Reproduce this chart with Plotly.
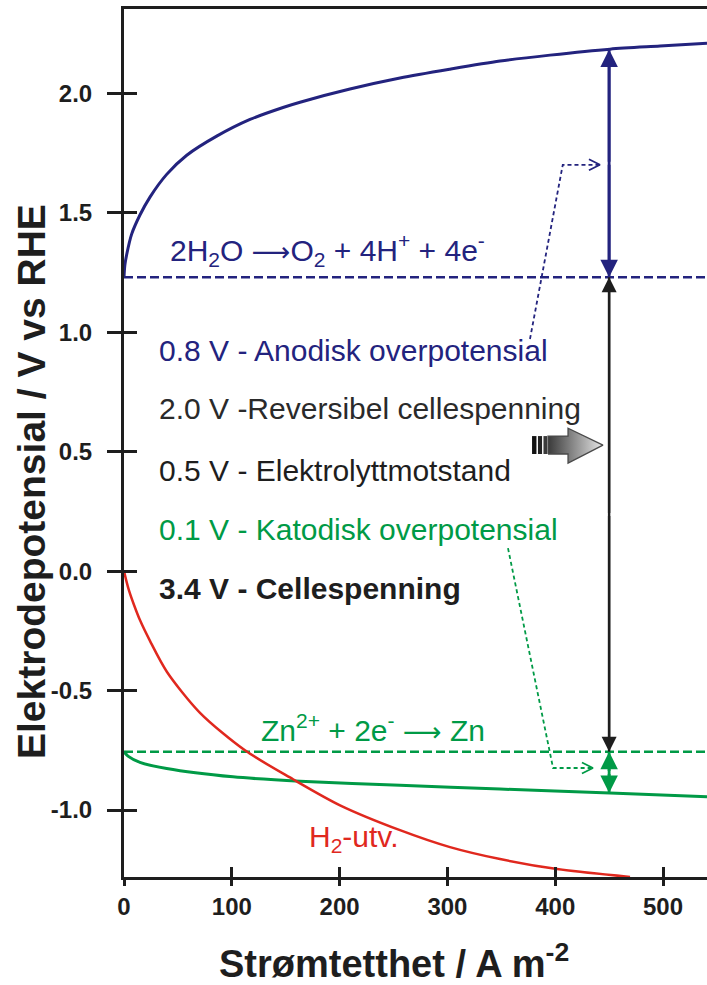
import plotly.graph_objects as go

# ---------------- data ----------------
x_tick_vals = [0, 100, 200, 300, 400, 500]
x_tick_text = ["0", "100", "200", "300", "400", "500"]
y_tick_vals = [-1.0, -0.5, 0.0, 0.5, 1.0, 1.5, 2.0]
y_tick_text = ["-1.0", "-0.5", "0.0", "0.5", "1.0", "1.5", "2.0"]

# anodic (O2 evolution) polarisation curve
anode_x = [0, 0.8, 2.5, 7.1, 14.8, 24.1, 39.6, 58.2, 86, 116.9, 147.5, 163.3, 209.6, 256, 302.4, 348.8, 395.2, 450.8, 497.2, 540.8]
anode_y = [1.23, 1.28, 1.325, 1.41, 1.49, 1.565, 1.66, 1.74, 1.82, 1.89, 1.94, 1.962, 2.017, 2.063, 2.10, 2.134, 2.159, 2.184, 2.197, 2.209]

# cathodic Zn deposition curve
zn_x = [0, 3.7, 14.8, 39.6, 101.1, 163.3, 256, 348.8, 450.8, 540.8]
zn_y = [-0.756, -0.774, -0.800, -0.826, -0.861, -0.879, -0.896, -0.912, -0.929, -0.944]

# hydrogen evolution curve
h2_x = [0, 2.3, 4.6, 9.3, 14.8, 24.1, 39.9, 70.5, 112.2, 156.8, 200.4, 256, 302.4, 348.8, 401.7, 469.4]
h2_y = [0.0, -0.043, -0.081, -0.142, -0.205, -0.292, -0.422, -0.593, -0.750, -0.871, -0.980, -1.084, -1.155, -1.205, -1.247, -1.280]

e_o2 = 1.23          # O2 equilibrium potential
e_zn = -0.756        # Zn equilibrium potential
arrow_x = 450        # position of the voltage arrows
anode_arrow_top = 2.183
zn_arrow_bottom = -0.929

# dashed leader lines
anode_leader_x = [376.6, 407, 441.5]
anode_leader_y = [0.971, 1.70, 1.70]
cath_leader_x = [356.2, 398, 435]
cath_leader_y = [0.096, -0.824, -0.824]

# block arrow (decoration) in data units
block_x = [393.3, 411.9, 411.9, 444.3, 411.9, 411.9, 393.3, 393.3]
block_y = [0.49, 0.49, 0.452, 0.527, 0.598, 0.565, 0.565, 0.49]
bars_x0 = [378.5, 384.0, 389.1]
bars_x1 = [382.6, 387.8, 392.4]
bars_y = [0.49, 0.565]
bars_col = ["#111111", "#222222", "#3a3a3a"]

# ---------------- styling ----------------
NAVY = "#23237e"
GREEN = "#009a46"
RED = "#e0281e"
BLACK = "#1e1e1e"
FONT = "Liberation Sans, Arial, sans-serif"
ARROW = "<span style=\"font-family:'DejaVu Sans';font-size:27px\">⟶</span>"

W, H = 707, 985
ML, MR, MT, MB = 124, 0, 9, 108
XR = [0, 540.8]
YR = [-1.28, 2.352]
pw = W - ML - MR
ph = H - MT - MB
sx = pw / (XR[1] - XR[0])   # px per x unit
sy = ph / (YR[1] - YR[0])   # px per y unit

fig = go.Figure()

# dashed equilibrium lines
fig.add_trace(go.Scatter(x=[XR[0], XR[1]], y=[e_o2, e_o2], mode="lines",
                         line=dict(color=NAVY, width=2.5, dash="9px,4px")))
fig.add_trace(go.Scatter(x=[XR[0], XR[1]], y=[e_zn, e_zn], mode="lines",
                         line=dict(color=GREEN, width=2.5, dash="9px,4px")))

# curves
fig.add_trace(go.Scatter(x=anode_x, y=anode_y, mode="lines", line=dict(color=NAVY, width=3, shape="spline", smoothing=0.8)))
fig.add_trace(go.Scatter(x=zn_x, y=zn_y, mode="lines", line=dict(color=GREEN, width=3, shape="spline", smoothing=0.8)))
fig.add_trace(go.Scatter(x=h2_x, y=h2_y, mode="lines", line=dict(color=RED, width=2.5, shape="spline", smoothing=0.8)))

# leader lines
fig.add_trace(go.Scatter(x=anode_leader_x, y=anode_leader_y, mode="lines",
                         line=dict(color=NAVY, width=1.8, dash="4px,3px")))
fig.add_trace(go.Scatter(x=cath_leader_x, y=cath_leader_y, mode="lines",
                         line=dict(color=GREEN, width=1.8, dash="4px,3px")))

# open chevrons at the leader tips
def chevron(xt, yt, color):
    dx = 11 / sx
    dy = 5.5 / sy
    fig.add_trace(go.Scatter(x=[xt - dx, xt, xt - dx], y=[yt + dy, yt, yt - dy], mode="lines",
                             line=dict(color=color, width=1.8)))

chevron(anode_leader_x[-1], anode_leader_y[-1], NAVY)
chevron(cath_leader_x[-1], cath_leader_y[-1], GREEN)

# block arrow with gradient
fig.add_trace(go.Scatter(x=block_x, y=block_y, mode="lines", fill="toself",
                         fillgradient=dict(type="horizontal",
                                           colorscale=[[0, "#3a3a3a"], [1, "#e6e6e6"]]),
                         line=dict(color="#4a4a4a", width=1.3)))
for x0, x1, c in zip(bars_x0, bars_x1, bars_col):
    fig.add_shape(type="rect", x0=x0, x1=x1, y0=bars_y[0], y1=bars_y[1],
                  xref="x", yref="y", fillcolor=c, line=dict(width=0))

# dummy trace for overlay axes (inside ticks)
fig.add_trace(go.Scatter(x=[XR[0]], y=[YR[0]], xaxis="x2", yaxis="y2", mode="markers",
                         marker=dict(opacity=0), hoverinfo="skip"))

annotations = []

def vert_arrow(x, y0, y1, color, width):
    # shaft
    fig.add_trace(go.Scatter(x=[x, x], y=[y0, y1], mode="lines", line=dict(color=color, width=width)))
    ym = (y0 + y1) / 2
    for yend in (y0, y1):
        annotations.append(dict(x=x, y=yend, ax=x, ay=ym, xref="x", yref="y",
                                axref="x", ayref="y", text="", showarrow=True,
                                arrowhead=2, arrowsize=1.25, arrowwidth=width,
                                arrowcolor=color, standoff=0, startstandoff=0))

vert_arrow(arrow_x, e_o2, anode_arrow_top, NAVY, 2.8)
vert_arrow(arrow_x, e_zn, e_o2, BLACK, 2.4)
vert_arrow(arrow_x, zn_arrow_bottom, e_zn, GREEN, 2.8)

def label(x, y, text, color, size=30, bold=False, anchor="left"):
    annotations.append(dict(x=x, y=y, xref="x", yref="y", text=text, showarrow=False,
                            xanchor=anchor, yanchor="middle",
                            font=dict(family=FONT, size=size, color=color,
                                      weight="bold" if bold else "normal")))

label(40.5, 1.345, "2H<sub>2</sub>O " + ARROW + "O<sub>2</sub> + 4H<sup>+</sup> + 4e<sup>-</sup>", NAVY)
label(30.5, 0.925, "0.8 V - Anodisk overpotensial", NAVY)
label(30.5, 0.682, "2.0 V -Reversibel cellespenning", "#2a2a2a")
label(30.5, 0.423, "0.5 V - Elektrolyttmotstand", BLACK)
label(30.5, 0.176, "0.1 V - Katodisk overpotensial", GREEN)
label(30.5, -0.071, "3.4 V - Cellespenning", BLACK, bold=True)
label(125, -0.655, "Zn<sup>2+</sup> + 2e<sup>-</sup> " + ARROW + " Zn", GREEN)
label(170, -1.12, "H<sub>2</sub>-utv.", RED)

# axis titles
annotations.append(dict(x=(31 - ML) / pw, y=(H - MB - 482) / ph, xref="paper", yref="paper",
                        text="Elektrodepotensial / V vs RHE", textangle=-90, showarrow=False,
                        xanchor="center", yanchor="middle",
                        font=dict(family=FONT, size=39, color=BLACK, weight="bold")))
annotations.append(dict(x=(394 - ML) / pw, y=(H - MB - 961) / ph, xref="paper", yref="paper",
                        text="Strømtetthet / A m<sup>-2</sup>", showarrow=False,
                        xanchor="center", yanchor="middle",
                        font=dict(family=FONT, size=38, color=BLACK, weight="bold")))

tickfont = dict(family=FONT, size=24, color=BLACK, weight="bold")

fig.update_layout(
    width=W, height=H, autosize=False,
    margin=dict(l=ML, r=MR, t=MT, b=MB, pad=0),
    paper_bgcolor="white", plot_bgcolor="white",
    showlegend=False,
    annotations=annotations,
    xaxis=dict(range=XR, tickmode="array", tickvals=x_tick_vals, ticktext=x_tick_text,
               ticks="outside", ticklen=6, tickwidth=3, tickcolor=BLACK,
               showline=True, linewidth=3, linecolor=BLACK, mirror=True,
               showgrid=False, zeroline=False, tickfont=tickfont, fixedrange=True),
    yaxis=dict(range=YR, tickmode="array", tickvals=y_tick_vals, ticktext=y_tick_text,
               ticks="outside", ticklen=14, tickwidth=3, tickcolor=BLACK, ticklabelstandoff=10,
               showline=True, linewidth=3, linecolor=BLACK, mirror=False,
               showgrid=False, zeroline=False, tickfont=tickfont, fixedrange=True),
    xaxis2=dict(range=XR, overlaying="x", anchor="y2", side="bottom", tickmode="array",
                tickvals=x_tick_vals, ticks="inside", ticklen=10, tickwidth=3, tickcolor=BLACK,
                showticklabels=False, showline=False, showgrid=False, zeroline=False),
    yaxis2=dict(range=YR, overlaying="y", anchor="x2", side="left", tickmode="array",
                tickvals=y_tick_vals, ticks="inside", ticklen=13, tickwidth=3, tickcolor=BLACK,
                showticklabels=False, showline=False, showgrid=False, zeroline=False),
)

fig.write_html("out.html")
